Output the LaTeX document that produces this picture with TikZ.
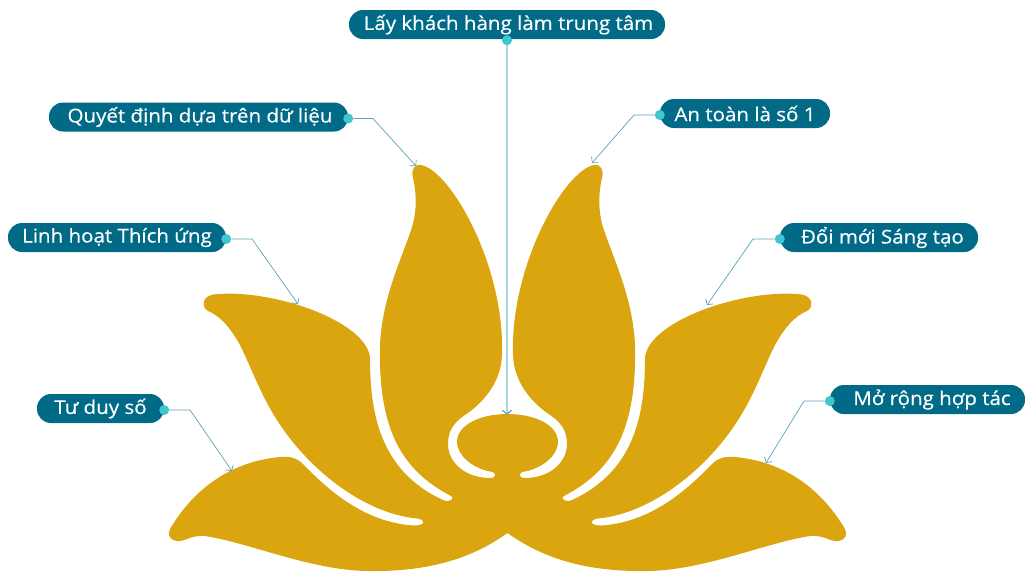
\documentclass[tikz,border=0pt]{standalone}
\usepackage{fontspec}
\setmainfont[FakeStretch=1.08,FakeBold=0.4]{Open Sans}
\usetikzlibrary{arrows.meta}
\definecolor{petalgold}{HTML}{DBA510}
\definecolor{pillblue}{HTML}{006A87}
\definecolor{dotcyan}{HTML}{3FC6CF}
\definecolor{leaderblue}{HTML}{5BA3B5}
\definecolor{stemblue}{HTML}{A9D9E0}
\tikzset{
  pill/.style={fill=pillblue,text=white,rounded corners=14pt,minimum height=29pt,inner sep=0pt,font=\fontsize{19}{21}\selectfont},
  dot/.style={circle,fill=dotcyan,minimum size=10pt,inner sep=0pt},
  leader/.style={leaderblue,line width=0.7pt,-{Straight Barb[length=4pt,width=9pt]}},
  stem/.style={stemblue,line width=1.2pt,-{Straight Barb[length=4pt,width=9pt,leaderblue]}}
}
\begin{document}
\begin{tikzpicture}[x=1pt,y=-1pt]
  \useasboundingbox (0,0) rectangle (1025,571);
  % ---------------- lotus ----------------
  \foreach \side/\xoff/\xdir in {left/0/1,right/1015/-1}{
    \begin{scope}[xshift=\xoff pt,xscale=\xdir]
      \fill[petalgold] (507.5,533)
        .. controls (470,560) and (425,572) .. (367,571)
        .. controls (310,570) and (250,543) .. (205,536)
        .. controls (190,535) and (185,542) .. (177,541)
        .. controls (170,540) and (167,535) .. (170,529)
        .. controls (190,495) and (225,462) .. (280,457)
        .. controls (290,456) and (297,458) .. (303,464)
        .. controls (330,492) and (365,522) .. (413,525.5)
        .. controls (425,526) and (427,520) .. (417,518.5)
        .. controls (370,514) and (325,480) .. (297,447)
        .. controls (265,410) and (255,375) .. (240,345)
        .. controls (230,327) and (220,316) .. (208,311)
        .. controls (202,308) and (201,297) .. (213,294.5)
        .. controls (270,288) and (365,320) .. (370,357)
        .. controls (370,410) and (378,470) .. (443,500)
        .. controls (450,503) and (456,498) .. (450,495.5)
        .. controls (402,470) and (378,430) .. (380,345)
        .. controls (382,300) and (400,262) .. (410,233)
        .. controls (417,215) and (417,195) .. (413,178)
        .. controls (411,170) and (414,164) .. (421,165)
        .. controls (450,170) and (505,265) .. (502,355)
        .. controls (501,385) and (480,405) .. (465,415)
        .. controls (450,425) and (448,435) .. (448,445)
        .. controls (449,465) and (468,478) .. (490,478)
        .. controls (497,478) and (497,472) .. (490,471.5)
        .. controls (472,468) and (457,455) .. (457,442)
        .. controls (457,425) and (480,414) .. (507.5,414)
        -- (508.5,414) -- (508.5,533) -- cycle;
    \end{scope}
  }
  % ---------------- labels ----------------
  \node[pill,minimum width=316pt] (customer) at (507,24.5) {\hspace*{3pt}Lấy khách hàng làm trung tâm};
  \node[pill,minimum width=299pt] (data) at (198.5,117) {\hspace*{3pt}Quyết định dựa trên dữ liệu};
  \node[pill,minimum width=218pt] (agile) at (117,237.5) {Linh hoạt Thích ứng};
  \node[pill,minimum width=127pt] (digital) at (100.5,408.5) {Tư duy số};
  \node[pill,minimum width=170pt] (safety) at (745,113.5) {An toàn là số 1};
  \node[pill,minimum width=198pt] (innovate) at (879,237.5) {\hspace*{7pt}Đổi mới Sáng tạo};
  \node[pill,minimum width=195pt] (partner) at (927.5,399.5) {\hspace*{9pt}Mở rộng hợp tác};
  % ---------------- leaders ----------------
  \node[dot,yshift=-1pt] (dotcustomer) at (customer.south) {};
  \foreach \name in {data,agile,digital} \node[dot,yshift=-1.5pt] (dot\name) at (\name.east) {};
  \foreach \name in {safety,innovate,partner} \node[dot,yshift=-1.5pt] (dot\name) at (\name.west) {};
  \coordinate (endcustomer) at (507,415);
  \draw[stem] (dotcustomer) -- (endcustomer);
  \foreach \name/\kx/\ex/\ey in {data/373/416/166,agile/252/298/304,digital/190/232/471,safety/634/592/163,innovate/753/707/305,partner/804/766/463}{
    \coordinate (knee\name) at (\kx,0 |- dot\name);
    \coordinate (end\name) at (\ex,\ey);
    \draw[leader] (dot\name) -- (knee\name) -- (end\name);
  }
\end{tikzpicture}
\end{document}
